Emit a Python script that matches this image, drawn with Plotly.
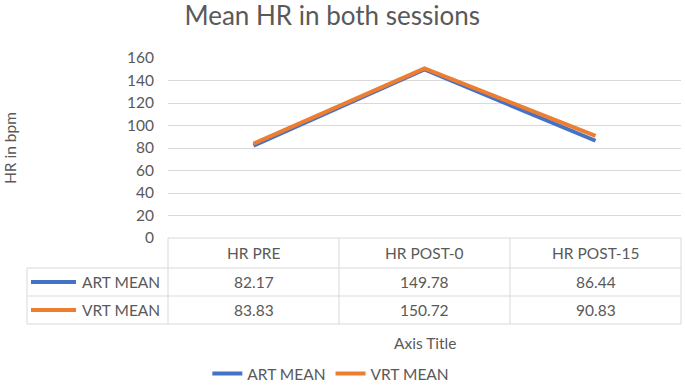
import plotly.graph_objects as go

categories = ["HR PRE", "HR POST-0", "HR POST-15"]
series_names = ["ART MEAN", "VRT MEAN"]
art_mean = [82.17, 149.78, 86.44]
vrt_mean = [83.83, 150.72, 90.83]
y_ticks = [0, 20, 40, 60, 80, 100, 120, 140, 160]

colors = ["#4472C4", "#ED7D31"]
series_values = [art_mean, vrt_mean]

W, H = 685, 387
L, R, T, B = 168, 4, 58, 149
PW, PH = W - L - R, H - T - B
FONT = "Lato"
GRAY = "#595959"
BORDER = "#D9D9D9"
FS = 15.5

def px(x):
    return (x - L) / PW

def py(y):
    return (H - B - y) / PH

fig = go.Figure()
for name, vals, c in zip(series_names, series_values, colors):
    fig.add_trace(go.Scatter(x=categories, y=vals, mode="lines", name=name,
                             line=dict(color=c, width=4)))

shapes = []
ann = []
y_hdr_top, y_r1, y_r2, y_bot = 238, 268, 296, 324
x_left = 27
col_edges = [L, L + PW / 3, L + 2 * PW / 3, L + PW]

def hline(x0, x1, y):
    shapes.append(dict(type="line", xref="paper", yref="paper",
                       x0=px(x0), x1=px(x1), y0=py(y), y1=py(y),
                       line=dict(color=BORDER, width=1)))

def vline(x, y0, y1):
    shapes.append(dict(type="line", xref="paper", yref="paper",
                       x0=px(x), x1=px(x), y0=py(y0), y1=py(y1),
                       line=dict(color=BORDER, width=1)))

hline(L, L + PW, y_hdr_top)
for yy in (y_r1, y_r2, y_bot):
    hline(x_left, L + PW, yy)
for xe in col_edges:
    vline(xe, y_hdr_top, y_bot)
vline(x_left, y_r1, y_bot)

for cat in categories:
    ann.append(dict(x=cat, xref="x", y=py((y_hdr_top + y_r1) / 2), yref="paper",
                    text=cat, showarrow=False, font=dict(family=FONT, size=FS, color=GRAY),
                    xanchor="center", yanchor="middle"))

for i, (name, vals, c) in enumerate(zip(series_names, series_values, colors)):
    yc = (y_r1 + y_r2) / 2 if i == 0 else (y_r2 + y_bot) / 2
    shapes.append(dict(type="line", xref="paper", yref="paper",
                       x0=px(31), x1=px(76), y0=py(yc), y1=py(yc),
                       line=dict(color=c, width=4)))
    ann.append(dict(x=px(162), xref="paper", y=py(yc), yref="paper", text=name,
                    showarrow=False, font=dict(family=FONT, size=FS, color=GRAY),
                    xanchor="right", yanchor="middle"))
    for cat, v in zip(categories, vals):
        ann.append(dict(x=cat, xref="x", y=py(yc), yref="paper", text=f"{v:.2f}",
                        showarrow=False, font=dict(family=FONT, size=FS, color=GRAY),
                        xanchor="center", yanchor="middle"))

ann.append(dict(x=px(10), xref="paper", y=0.5, yref="paper", text="HR in bpm",
                textangle=-90, showarrow=False, font=dict(family=FONT, size=FS, color=GRAY),
                xanchor="center", yanchor="middle"))
ann.append(dict(x="HR POST-0", xref="x", y=py(343), yref="paper", text="Axis Title",
                showarrow=False, font=dict(family=FONT, size=FS, color=GRAY),
                xanchor="center", yanchor="middle"))

fig.update_layout(
    width=W, height=H,
    margin=dict(l=L, r=R, t=T, b=B),
    paper_bgcolor="white", plot_bgcolor="white",
    title=dict(text="Mean HR in both sessions", x=0.485, xanchor="center",
               y=1 - 16 / H, yanchor="middle",
               font=dict(family=FONT, size=26, color=GRAY)),
    xaxis=dict(type="category", range=[-0.5, 2.5], showticklabels=False,
               showgrid=False, zeroline=False, showline=False, ticks=""),
    yaxis=dict(range=[0, 160], tickvals=y_ticks, showgrid=True, gridcolor=BORDER,
               gridwidth=1, zeroline=False, showline=False, ticks="",
               ticklabelstandoff=13,
               tickfont=dict(family=FONT, size=FS, color=GRAY)),
    showlegend=True,
    legend=dict(orientation="h", xref="container", yref="container",
                x=0.483, xanchor="center", y=1 - 374 / H, yanchor="middle",
                font=dict(family=FONT, size=FS, color=GRAY),
                itemwidth=30, tracegroupgap=0),
    shapes=shapes, annotations=ann,
)

fig.write_html("out.html", config={"displayModeBar": False},
               post_script="document.body.style.margin='0';document.body.style.overflow='hidden';")
